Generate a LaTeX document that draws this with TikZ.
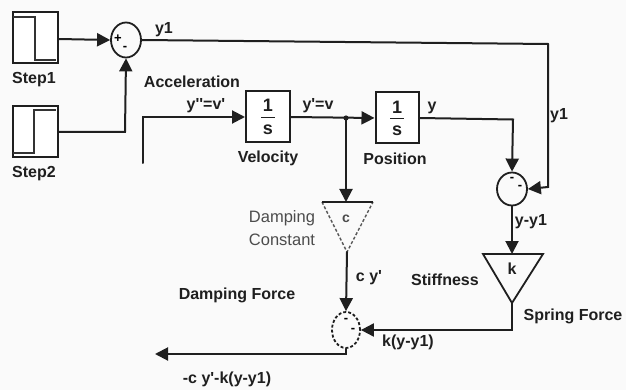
\documentclass[tikz,border=0pt]{standalone}
\usepackage{fontspec}
\setmainfont{Liberation Sans}[Ligatures=TeXOff]
\usetikzlibrary{arrows.meta,shapes.geometric}
\tikzset{
  wire/.style={line width=2pt,line cap=round,line join=miter,draw=black!88},
  arr/.style={wire,-{Triangle[length=13pt,width=13pt]}},
  blockbox/.style={draw=black!88,line width=2pt,minimum width=45pt,minimum height=51pt,inner sep=0pt,fill=white},
  sumnode/.style={draw=black!88,line width=1.8pt,ellipse,inner sep=0pt},
  lab/.style={font=\bfseries\fontsize{16}{18}\selectfont,text=black!88,inner sep=0pt},
  thinlab/.style={font=\fontsize{16.5}{23}\selectfont,text=black!70,inner sep=0pt,align=right},
  fracpart/.style={font=\bfseries\fontsize{18}{20}\selectfont,text=black!88,inner sep=0pt},
  signal/.style={line width=1.5pt,draw=black!80},
  signmark/.style={inner sep=0pt,font=\bfseries\fontsize{13}{13}\selectfont}
}
\begin{document}
\begin{tikzpicture}[x=1pt,y=-1pt]
\useasboundingbox (0,0) rectangle (626,390);
\fill[black!2] (0,0) rectangle (626,390);

% blocks
\node[blockbox] (step1) at (35,38) {};
\node[blockbox] (step2) at (35,132) {};
\node[blockbox,minimum width=44pt] (vel) at (268,117) {};
\node[blockbox,minimum width=43pt] (pos) at (397,118) {};
\node[sumnode,minimum width=30pt,minimum height=35pt] (sumA) at (126,40) {};
\node[sumnode,minimum width=30pt,minimum height=33pt] (sumB) at (512,189) {};
\node[sumnode,minimum width=28pt,minimum height=36pt,densely dashed] (sumC) at (346,330) {};

% step signals
\draw[signal] (13,17) -- (35,17) -- (35,60) -- (56,60);
\draw[signal] (13,153) -- (34,153) -- (34,110) -- (56,110);

% sum signs
\node[signmark] at (118,39) {+};
\node[signmark] at (125,48) {-};
\node[signmark] at (512,179) {-};
\node[signmark] at (520,187) {-};
\node[signmark] at (346,320) {-};
\node[signmark] at (353,330) {-};

% 1/s
\node[fracpart] at (268,105) {1};
\node[fracpart] at (268,130) {s};
\draw[line width=1.6pt,draw=black!88] (261,117.5) -- (275,117.5);
\node[fracpart] at (397,107) {1};
\node[fracpart] at (397,131) {s};
\draw[line width=1.6pt,draw=black!88] (390,118.5) -- (404,118.5);

% gains
\coordinate (ctl) at (322,202); \coordinate (ctr) at (373,202);
\coordinate (ctop) at (346,202); \coordinate (cap) at (347,252);
\coordinate (ktl) at (483,254); \coordinate (ktr) at (543,254);
\coordinate (ktop) at (512,254); \coordinate (kap) at (512,303);
\draw[line width=1.4pt,draw=black!65,densely dashed] (ctl) -- (cap) -- (ctr);
\draw[line width=1.8pt,draw=black!88] (ctl) -- (ctr);
\draw[line width=1.8pt,draw=black!88] (ktl) -- (ktr) -- (kap) -- cycle;
\node[thinlab,font=\bfseries\fontsize{14}{14}\selectfont] at (346,219) {c};
\node[lab] at (512,269) {k};

% free ends and junction
\coordinate (accEnd) at (143,163);
\coordinate (dampOut) at (155,354);
\coordinate (tap) at (346,118);
\coordinate (corner) at (548,44);

% connectors
\draw[arr] (step1.east |- 0,39) -- (sumA.west);
\draw[arr] (step2.east) -- (125,132) -- (sumA.south);
\draw[wire] (sumA.east) -- (corner);
\draw[arr] (corner) -- (548,187) -- (sumB.east);
\draw[arr] (accEnd) -- (143,117) -- (vel.west);
\draw[arr] (vel.east) -- (pos.west);
\draw[arr] (pos.east) -- (513,119.5) -- (sumB.north);
\fill[black!88] (tap) circle (2.6pt);
\draw[arr] (tap) -- (ctop);
\draw[arr] (cap) -- (sumC.north);
\draw[arr] (sumB.south) -- (ktop);
\draw[arr] (kap) -- (512,330) -- (sumC.east);
\draw[arr] (sumC.south) -- (346,354) -- (dampOut);

% labels
\node[lab] at (34,80) {Step1};
\node[lab] at (34,174) {Step2};
\node[lab] at (164,30) {y1};
\node[lab] at (192,82) {Acceleration};
\node[lab] at (206,106) {y''=v'};
\node[lab] at (268,158) {Velocity};
\node[lab] at (318,106) {y'=v};
\node[lab] at (395,159) {Position};
\node[lab] at (432,108) {y};
\node[lab] at (559,116) {y1};
\node[thinlab] at (282,228) {Damping\\Constant};
\node[lab] at (369,278) {c y'};
\node[lab] at (237,295) {Damping Force};
\node[lab] at (445,280) {Stiffness};
\node[lab] at (531,222) {y-y1};
\node[lab] at (573,316) {Spring Force};
\node[lab] at (408,342) {k(y-y1)};
\node[lab] at (227,379) {-c y'-k(y-y1)};
\end{tikzpicture}
\end{document}
